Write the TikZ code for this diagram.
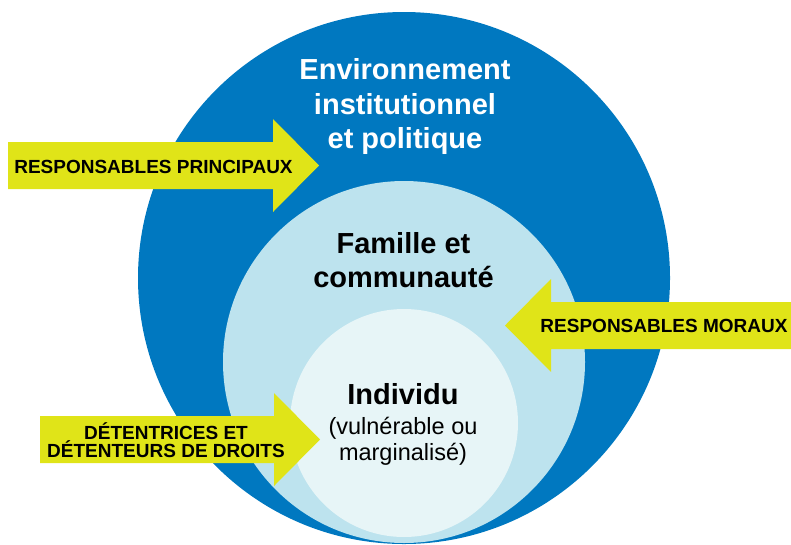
\documentclass[tikz,border=0pt]{standalone}
\usepackage{fontspec}
\setmainfont{Liberation Sans}
\usetikzlibrary{positioning}
\definecolor{envblue}{RGB}{0,120,192}
\definecolor{famblue}{RGB}{189,227,238}
\definecolor{indblue}{RGB}{231,245,247}
\definecolor{yel}{RGB}{224,228,24}

\begin{document}
\begin{tikzpicture}[x=1pt,y=-1pt,
    disc/.style={circle,inner sep=0pt,minimum size=#1},
    title/.style={font=\bfseries\fontsize{29}{34.5}\selectfont,align=center,inner sep=0pt},
    tag/.style={font=\bfseries\fontsize{19}{17}\selectfont,align=center,inner sep=0pt}]
  \useasboundingbox (0,0) rectangle (791,544);
  \begin{scope}
    \node[disc=532pt,fill=envblue] (env) at (404,278) {};
    \node[disc=362pt,fill=famblue] (fam) at (404,362) {};
    \node[disc=228pt,fill=indblue] (ind) at (404,423) {};
  \end{scope}
  \begin{scope}
    \def\arrs{23.5}
    \def\arrh{46.5}
    \def\arrl{46}
    \foreach \tx/\ty/\dir/\tl in {319/165.5/1/8, 505/325.5/-1/791, 320/439.5/1/40} {
      \fill[yel] (\tl,\ty-\arrs) -- ({\tx-(\dir)*\arrl},\ty-\arrs) -- ({\tx-(\dir)*\arrl},\ty-\arrh)
        -- (\tx,\ty) -- ({\tx-(\dir)*\arrl},\ty+\arrh) -- ({\tx-(\dir)*\arrl},\ty+\arrs)
        -- (\tl,\ty+\arrs) -- cycle;
    }
  \end{scope}
  \node[title,text=white] (envtxt) at (405,106.5) {Environnement\\institutionnel\\et politique};
  \node[title] (famtxt) at (403.5,260.3) {Famille et\\communauté};
  \node[title,anchor=base] (indtxt) at (403,404) {Individu};
  \node[font=\fontsize{23.5}{26}\selectfont,align=center,inner sep=0pt,below=13pt of indtxt] (indsub) {(vulnérable ou\\marginalisé)};
  \node[tag] (princ) at (153.5,166.5) {RESPONSABLES PRINCIPAUX};
  \node[tag] (moraux) at (664,325.5) {RESPONSABLES MORAUX};
  \node[tag] (detent) at (166,440) {DÉTENTRICES ET\\DÉTENTEURS DE DROITS};
\end{tikzpicture}
\end{document}
